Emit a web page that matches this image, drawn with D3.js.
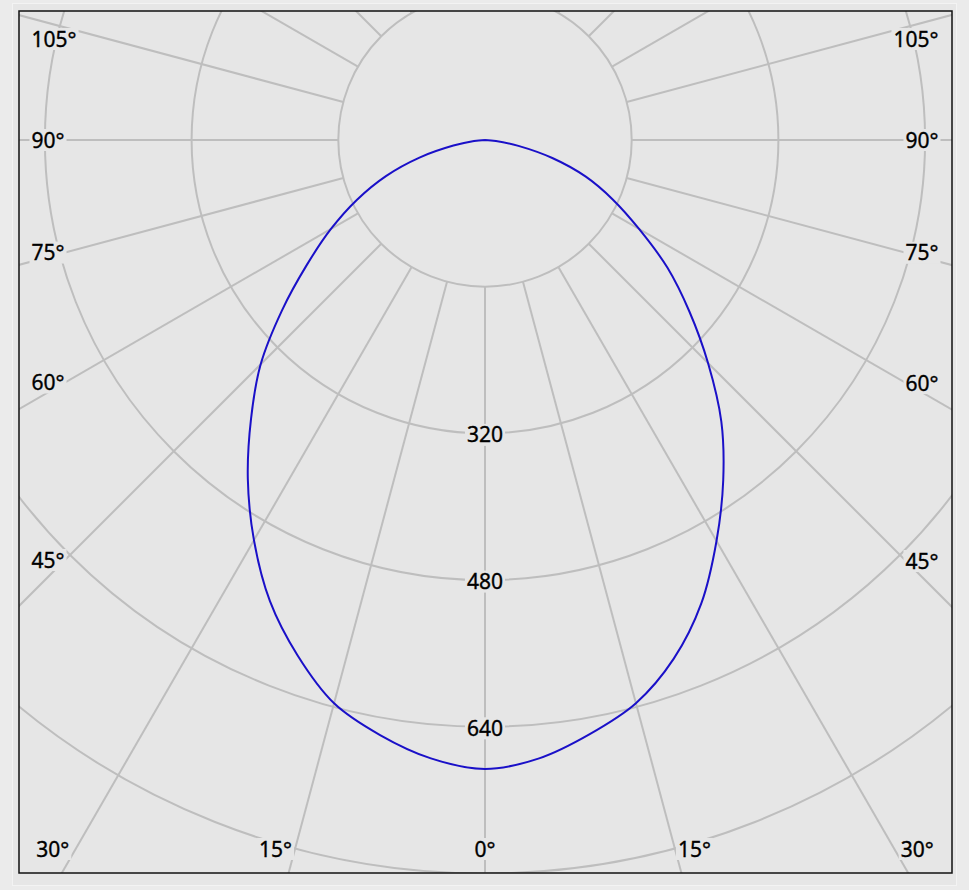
<!DOCTYPE html>
<html><head><meta charset="utf-8">
<script src="https://cdn.jsdelivr.net/npm/d3@7"></script>
<style>html,body{margin:0;padding:0;background:#ebebeb;} svg{display:block}</style>
</head><body><svg id="chart" width="969" height="890"></svg>
<script>
// ---- data ----
const curveAngles = [-90,-85,-80,-75,-70,-65,-60,-55,-50,-45,-40,-35,-30,-25,-20,-15,-10,-5,0,5,10,15,20,25,30,35,40,45,50,55,60,65,70,75,80,85,90];
const curveIntensity = [0,12,35,74,115,154,194,237,289,346,397,451,504,555,598,636,659,677,686,677,658,636,602,558,505,453,401,344,291,243,194,154,117,76,37,12,0];
const ringValues = [160,320,480,640,800,960];
const ringLabelValues = [320,480,640];
const spokeAngles = [0,15,30,45,60,75,90,105,120,135,150,165,180];
const angleLabelValues = [0,15,30,45,60,75,90,105];

// ---- layout ----
const W = 969, H = 890;
const box = {l:19, t:11, r:952, b:873};
const cx = 485, cy = 140;
const bg = "#e6e6e6", gridColor = "#bebebe";
const fontSize = 21;

const svg = d3.select("#chart");
const rScale = d3.scaleLinear().domain([0,160]).range([0,146.7]);

svg.append("rect").attr("x",0).attr("y",0).attr("width",W).attr("height",H).attr("fill","#ebebeb");
svg.append("rect").attr("x",12.5).attr("y",3.5).attr("width",944).attr("height",882)
  .attr("fill",bg).attr("stroke","#f3f3f3").attr("stroke-width",1);

svg.append("clipPath").attr("id","clip").append("rect")
  .attr("x",box.l).attr("y",box.t).attr("width",box.r-box.l).attr("height",box.b-box.t);

svg.append("rect").attr("x",box.l).attr("y",box.t).attr("width",box.r-box.l).attr("height",box.b-box.t)
  .attr("fill",bg);

const g = svg.append("g").attr("clip-path","url(#clip)");
const plot = g.append("g").attr("transform",`translate(${cx},${cy})`);

// rings
plot.selectAll("circle.ring").data(ringValues).join("circle")
  .attr("class","ring").attr("r",d=>rScale(d))
  .attr("fill","none").attr("stroke",gridColor).attr("stroke-width",2);

// spokes (both sides), from inner ring outward
const spokes = [];
spokeAngles.forEach(a => { spokes.push(a); if (a!==0 && a!==180) spokes.push(-a); });
const rIn = rScale(ringValues[0]), rOut = 1400;
plot.selectAll("line.spoke").data(spokes).join("line")
  .attr("class","spoke")
  .attr("x1",d=>rIn*Math.sin(d*Math.PI/180)).attr("y1",d=>rIn*Math.cos(d*Math.PI/180))
  .attr("x2",d=>rOut*Math.sin(d*Math.PI/180)).attr("y2",d=>rOut*Math.cos(d*Math.PI/180))
  .attr("stroke",gridColor).attr("stroke-width",2);

// intensity curve
const pts = curveAngles.map((a,i)=>({a, v:curveIntensity[i]}));
const line = d3.lineRadial()
  .angle(d => Math.PI - d.a*Math.PI/180)
  .radius(d => rScale(d.v))
  .curve(d3.curveCatmullRom);
plot.append("path").datum(pts).attr("d",line)
  .attr("fill","none").attr("stroke","#1a10c8").attr("stroke-width",2).attr("stroke-linejoin","round");

// labels with masking background
function addLabel(parent, txt, x, yc, anchor){
  const grp = parent.append("g");
  const rect = grp.append("rect").attr("fill",bg);
  const t = grp.append("text").attr("x",x).attr("y",yc + fontSize*0.36)
    .attr("text-anchor",anchor).attr("font-family","'Noto Sans', sans-serif")
    .attr("font-size",fontSize).attr("fill","#000")
    .attr("stroke","#000").attr("stroke-width",0.35).text(txt);
  const bb = t.node().getBBox();
  rect.attr("x",bb.x-2).attr("y",yc-11).attr("width",bb.width+4).attr("height",22);
}

const labels = g.append("g");
// ring labels along 0° line
ringLabelValues.forEach(v => addLabel(labels, String(v), cx, cy + rScale(v) + 1.5, "middle"));

// angle labels
angleLabelValues.forEach(a => {
  [-1,1].forEach(s => {
    if (a===0 && s===1) return;
    const t = a*Math.PI/180;
    const dx = s*Math.sin(t), dy = Math.cos(t);
    let exitBottom = false;
    if (dy > 1e-6) {
      const xb = cx + dx*(box.b-cy)/dy;
      exitBottom = xb >= box.l && xb <= box.r;
    }
    const txt = a + "°";
    if (exitBottom) {
      const yc = box.b - 24;
      if (a===0) { addLabel(labels, txt, cx, yc, "middle"); return; }
      const xr = cx + dx*((yc+11-cy)/dy);
      addLabel(labels, txt, xr, yc, s<0 ? "end" : "start");
    } else {
      const xText = s<0 ? box.l+12.5 : box.r-13.5;
      const xe = s<0 ? box.l+46 : box.r-46;
      let yc = Math.abs(dx)>1e-6 ? cy + dy*((xe-cx)/dx) : cy - 1.5;
      yc = Math.max(yc, box.t+28);
      addLabel(labels, txt, xText, yc, s<0 ? "start" : "end");
    }
  });
});

// frame
svg.append("rect").attr("x",box.l).attr("y",box.t).attr("width",box.r-box.l).attr("height",box.b-box.t)
  .attr("fill","none").attr("stroke","#111").attr("stroke-width",1.5);
</script>
</body></html>
